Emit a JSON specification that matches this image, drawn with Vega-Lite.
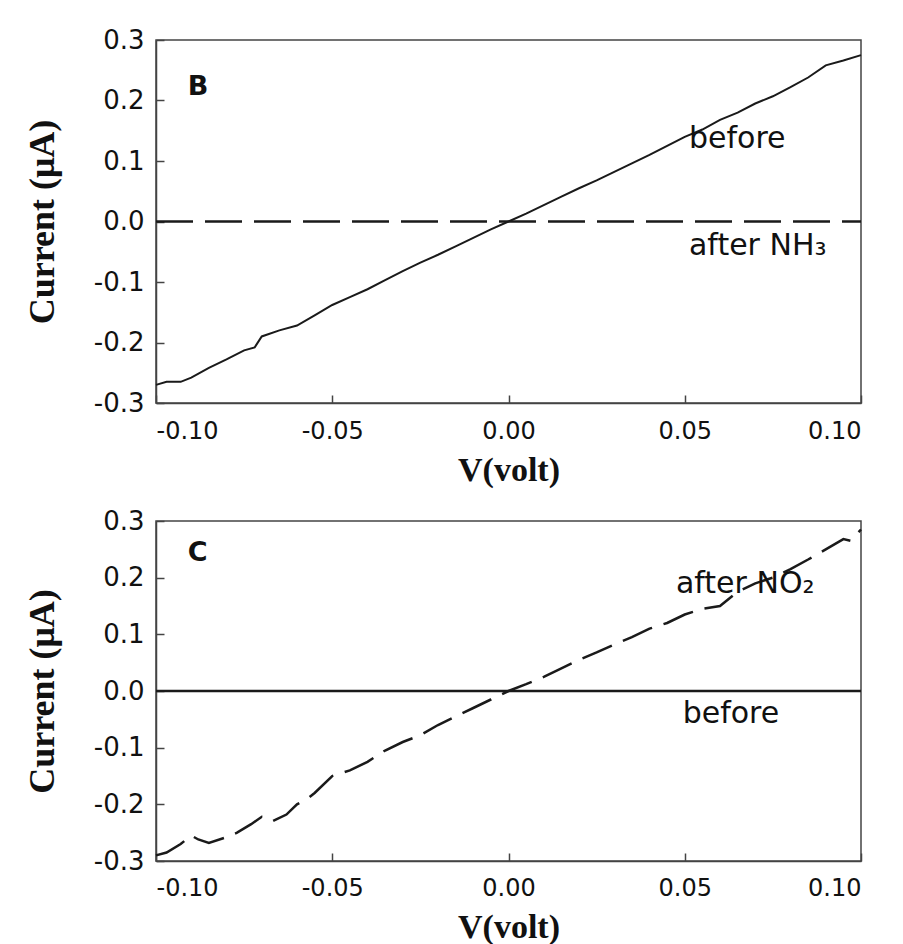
{
  "$schema": "https://vega.github.io/schema/vega-lite/v6.json",
  "background": "white",
  "padding": {"top": 26, "left": 23, "right": 10, "bottom": 0},
  "config": {
    "view": {"stroke": "#444", "strokeWidth": 1.5},
    "axis": {"grid": false, "domainColor": "#444", "domainWidth": 1.5, "tickColor": "#444", "tickWidth": 1.5, "tickSize": -8, "labelFont": "DejaVu Sans", "labelFontSize": 24, "labelColor": "#111", "titleFont": "Liberation Serif", "titleFontWeight": "bold", "titleFontSize": 34, "titleColor": "#111", "labelPadding": 14},
    "axisY": {"labelFontSize": 26, "labelPadding": 20, "titleFontSize": 36, "titlePadding": 32},
    "axisX": {"labelPadding": 24, "titlePadding": 10},
    "concat": {"spacing": 19}
  },
  "datasets": {
    "bBefore": [
      {"v": -0.100, "i": -0.270}, {"v": -0.097, "i": -0.265}, {"v": -0.093, "i": -0.265}, {"v": -0.090, "i": -0.258},
      {"v": -0.085, "i": -0.242}, {"v": -0.080, "i": -0.228}, {"v": -0.075, "i": -0.213}, {"v": -0.072, "i": -0.208},
      {"v": -0.070, "i": -0.190}, {"v": -0.065, "i": -0.180}, {"v": -0.060, "i": -0.172}, {"v": -0.055, "i": -0.155},
      {"v": -0.050, "i": -0.138}, {"v": -0.045, "i": -0.125}, {"v": -0.040, "i": -0.112}, {"v": -0.035, "i": -0.097},
      {"v": -0.030, "i": -0.082}, {"v": -0.025, "i": -0.068}, {"v": -0.020, "i": -0.055}, {"v": -0.015, "i": -0.041},
      {"v": -0.010, "i": -0.027}, {"v": -0.005, "i": -0.013}, {"v": 0.000, "i": 0.000}, {"v": 0.005, "i": 0.013},
      {"v": 0.010, "i": 0.027}, {"v": 0.015, "i": 0.041}, {"v": 0.020, "i": 0.055}, {"v": 0.025, "i": 0.068},
      {"v": 0.030, "i": 0.082}, {"v": 0.035, "i": 0.096}, {"v": 0.040, "i": 0.110}, {"v": 0.045, "i": 0.125},
      {"v": 0.050, "i": 0.140}, {"v": 0.055, "i": 0.152}, {"v": 0.060, "i": 0.168}, {"v": 0.065, "i": 0.180},
      {"v": 0.070, "i": 0.195}, {"v": 0.075, "i": 0.207}, {"v": 0.080, "i": 0.222}, {"v": 0.085, "i": 0.238},
      {"v": 0.090, "i": 0.258}, {"v": 0.095, "i": 0.266}, {"v": 0.100, "i": 0.275}
    ],
    "flat": [
      {"v": -0.100, "i": 0.0}, {"v": 0.100, "i": 0.0}
    ],
    "cAfter": [
      {"v": -0.100, "i": -0.290}, {"v": -0.097, "i": -0.285}, {"v": -0.093, "i": -0.270}, {"v": -0.090, "i": -0.255},
      {"v": -0.088, "i": -0.262}, {"v": -0.085, "i": -0.268}, {"v": -0.080, "i": -0.258}, {"v": -0.077, "i": -0.250},
      {"v": -0.073, "i": -0.235}, {"v": -0.070, "i": -0.222}, {"v": -0.067, "i": -0.230}, {"v": -0.063, "i": -0.218},
      {"v": -0.060, "i": -0.200}, {"v": -0.057, "i": -0.190}, {"v": -0.055, "i": -0.180}, {"v": -0.050, "i": -0.150},
      {"v": -0.045, "i": -0.140}, {"v": -0.040, "i": -0.125}, {"v": -0.035, "i": -0.105}, {"v": -0.030, "i": -0.090},
      {"v": -0.025, "i": -0.078}, {"v": -0.020, "i": -0.060}, {"v": -0.015, "i": -0.045}, {"v": -0.010, "i": -0.030},
      {"v": -0.005, "i": -0.015}, {"v": 0.000, "i": 0.000}, {"v": 0.005, "i": 0.012}, {"v": 0.010, "i": 0.025},
      {"v": 0.015, "i": 0.040}, {"v": 0.020, "i": 0.055}, {"v": 0.025, "i": 0.068}, {"v": 0.030, "i": 0.082},
      {"v": 0.035, "i": 0.095}, {"v": 0.040, "i": 0.110}, {"v": 0.045, "i": 0.120}, {"v": 0.050, "i": 0.135},
      {"v": 0.055, "i": 0.145}, {"v": 0.060, "i": 0.150}, {"v": 0.065, "i": 0.175}, {"v": 0.070, "i": 0.190},
      {"v": 0.075, "i": 0.200}, {"v": 0.080, "i": 0.215}, {"v": 0.085, "i": 0.232}, {"v": 0.090, "i": 0.250},
      {"v": 0.095, "i": 0.268}, {"v": 0.097, "i": 0.265}, {"v": 0.100, "i": 0.285}
    ],
    "bLabels": [
      {"v": 0.0512, "i": 0.136, "t": "before"},
      {"v": 0.0512, "i": -0.040, "t": "after NH₃"}
    ],
    "bPanel": [{"v": -0.091, "i": 0.222, "t": "B"}],
    "cLabels": [
      {"v": 0.0475, "i": 0.189, "t": "after NO₂"},
      {"v": 0.0494, "i": -0.041, "t": "before"}
    ],
    "cPanel": [{"v": -0.091, "i": 0.244, "t": "C"}]
  },
  "vconcat": [
    {
      "width": 705,
      "height": 363,
      "encoding": {
        "x": {"field": "v", "type": "quantitative", "scale": {"domain": [-0.1, 0.1], "nice": false, "zero": false}, "axis": {"values": [-0.1, -0.05, 0, 0.05, 0.1], "labelExpr": "replace(format(datum.value, '.2f'), '\u2212', '-')", "title": "V(volt)"}},
        "y": {"field": "i", "type": "quantitative", "scale": {"domain": [-0.3, 0.3], "nice": false, "zero": false}, "axis": {"values": [-0.3, -0.2, -0.1, 0, 0.1, 0.2, 0.3], "labelExpr": "replace(format(datum.value, '.1f'), '\u2212', '-')", "title": "Current (μA)"}}
      },
      "layer": [
        {"data": {"name": "bBefore"}, "mark": {"type": "line", "color": "#1a1a1a", "strokeWidth": 2}},
        {"data": {"name": "flat"}, "mark": {"type": "line", "color": "#1a1a1a", "strokeWidth": 2.5, "strokeDash": [37, 12]}},
        {"data": {"name": "bLabels"}, "mark": {"type": "text", "align": "left", "baseline": "middle", "font": "DejaVu Sans", "fontSize": 30, "color": "#111"}, "encoding": {"text": {"field": "t"}}},
        {"data": {"name": "bPanel"}, "mark": {"type": "text", "align": "left", "baseline": "middle", "font": "DejaVu Sans", "fontWeight": "bold", "fontSize": 27, "color": "#111"}, "encoding": {"text": {"field": "t"}}}
      ]
    },
    {
      "width": 705,
      "height": 340,
      "encoding": {
        "x": {"field": "v", "type": "quantitative", "scale": {"domain": [-0.1, 0.1], "nice": false, "zero": false}, "axis": {"values": [-0.1, -0.05, 0, 0.05, 0.1], "labelExpr": "replace(format(datum.value, '.2f'), '\u2212', '-')", "title": "V(volt)", "labelPadding": 23, "titlePadding": 10}},
        "y": {"field": "i", "type": "quantitative", "scale": {"domain": [-0.3, 0.3], "nice": false, "zero": false}, "axis": {"values": [-0.3, -0.2, -0.1, 0, 0.1, 0.2, 0.3], "labelExpr": "replace(format(datum.value, '.1f'), '\u2212', '-')", "title": "Current (μA)"}}
      },
      "layer": [
        {"data": {"name": "flat"}, "mark": {"type": "line", "color": "#1a1a1a", "strokeWidth": 2.5}},
        {"data": {"name": "cAfter"}, "mark": {"type": "line", "color": "#1a1a1a", "strokeWidth": 2.5, "strokeDash": [32, 12]}},
        {"data": {"name": "cLabels"}, "mark": {"type": "text", "align": "left", "baseline": "middle", "font": "DejaVu Sans", "fontSize": 30, "color": "#111"}, "encoding": {"text": {"field": "t"}}},
        {"data": {"name": "cPanel"}, "mark": {"type": "text", "align": "left", "baseline": "middle", "font": "DejaVu Sans", "fontWeight": "bold", "fontSize": 27, "color": "#111"}, "encoding": {"text": {"field": "t"}}}
      ]
    }
  ]
}
